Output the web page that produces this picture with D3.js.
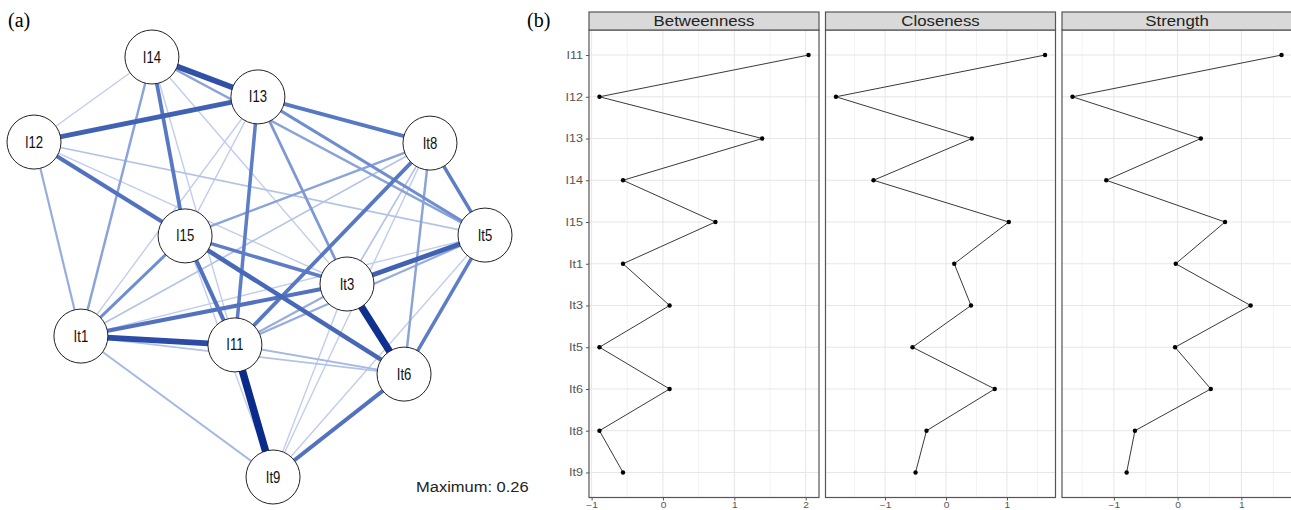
<!DOCTYPE html>
<html>
<head>
<meta charset="utf-8">
<script src="https://cdn.jsdelivr.net/npm/d3@7"></script>
<style>
  body { margin: 0; background: #fff; }
  svg { display: block; font-family: "Liberation Sans", Arial, sans-serif; }
</style>
</head>
<body>
<div id="chart"></div>
<script>
// ---- data ----
// network (a): node names and qgraph-style layout coordinates in [-1, 1]
const nodeNames = ["I14", "I13", "I12", "It8", "It5", "I15", "It3", "It1", "I11", "It6", "It9"];
const layoutX = [-0.477, -0.007, -1.0, 0.756, 1.0, -0.330, 0.388, -0.792, -0.109, 0.641, 0.060];
const layoutY = [1.0, 0.810, 0.595, 0.590, 0.152, 0.148, -0.081, -0.329, -0.371, -0.510, -1.0];

// edges: [from, to, partial correlation]
const edges = [
  ["I11", "It9", 0.26], ["It3", "It6", 0.25], ["I14", "I13", 0.19], ["It1", "I11", 0.20],
  ["I12", "I13", 0.16], ["It3", "It5", 0.16], ["I15", "It6", 0.15], ["I12", "I15", 0.13],
  ["I14", "I15", 0.12], ["I15", "I11", 0.13], ["It6", "It9", 0.13], ["It1", "It3", 0.13],
  ["I13", "It8", 0.12], ["It8", "I11", 0.12], ["I13", "I11", 0.11], ["It8", "It5", 0.11],
  ["It5", "It6", 0.11], ["I15", "It3", 0.11], ["I13", "It5", 0.09], ["I14", "It5", 0.07],
  ["I15", "It1", 0.09], ["I13", "It3", 0.08], ["I15", "It8", 0.07], ["I14", "It1", 0.07],
  ["I12", "It1", 0.06], ["It1", "It9", 0.05], ["I11", "It3", 0.06], ["It8", "It6", 0.07],
  ["It5", "I11", 0.06], ["I12", "It5", 0.04], ["I12", "I14", 0.03], ["I14", "It3", 0.03],
  ["I14", "I11", 0.03], ["I13", "I15", 0.03], ["I13", "It1", 0.03], ["It8", "It1", 0.04],
  ["It8", "It9", 0.03], ["It8", "It3", 0.04], ["It5", "It1", 0.03], ["It5", "It9", 0.03],
  ["I15", "It9", 0.03], ["It1", "It6", 0.04], ["I11", "It6", 0.05], ["It3", "It9", 0.03],
  ["I12", "It3", 0.03], ["I12", "It6", 0.03]
];
const maxWeight = 0.26;

// centrality plot (b)
const items = ["I11", "I12", "I13", "I14", "I15", "It1", "It3", "It5", "It6", "It8", "It9"];
const measures = ["Betweenness", "Closeness", "Strength"];
const betweenness = [2.04, -0.89, 1.39, -0.56, 0.735, -0.56, 0.093, -0.89, 0.093, -0.89, -0.56];
const closeness = [1.625, -1.806, 0.424, -1.19, 1.03, 0.135, 0.41, -0.55, 0.80, -0.32, -0.50];
const strength = [1.63, -1.65, 0.364, -1.12, 0.744, -0.03, 1.145, -0.04, 0.52, -0.67, -0.80];
const xTicks = [[-1, 0, 1, 2], [-1, 0, 1], [-1, 0, 1]];
const xMinor = [[-0.5, 0.5, 1.5], [-1.5, -0.5, 0.5, 1.5], [-1.5, -0.5, 0.5, 1.5]];

const W = 1291, H = 510;
const svg = d3.select("#chart").append("svg")
    .attr("width", W)
    .attr("height", H);

// text drawn with a horizontal stretch (the figure is not square-scaled)
function stretchText(parent, x, y, str, sx) {
    return parent.append("g")
        .attr("transform", `translate(${x},${y}) scale(${sx},1)`)
        .append("text")
        .text(str);
}

// ================= (a) network =================
svg.append("text")
    .attr("x", 8).attr("y", 27)
    .attr("font-family", "'Liberation Serif', 'Times New Roman', serif")
    .attr("font-size", 20)
    .text("(a)");

const nx = d3.scaleLinear().domain([-1, 1]).range([34, 485]);
const ny = d3.scaleLinear().domain([-1, 1]).range([477, 57]);
const nodes = nodeNames.map((n, i) => ({ name: n, x: nx(layoutX[i]), y: ny(layoutY[i]) }));
const byName = {};
nodes.forEach(d => byName[d.name] = d);

const edgeColor = d3.scaleLinear()
    .domain([0, 0.1, maxWeight])
    .range(["#e8edf8", "#6283cb", "#0a2a8c"]);
const edgeWidth = d3.scaleLinear()
    .domain([0, maxWeight])
    .range([0.6, 7.5]);

const net = svg.append("g");
net.selectAll("line.edge")
    .data(edges.slice().sort((a, b) => a[2] - b[2]))
    .enter()
    .append("line")
    .attr("class", "edge")
    .attr("x1", d => byName[d[0]].x)
    .attr("y1", d => byName[d[0]].y)
    .attr("x2", d => byName[d[1]].x)
    .attr("y2", d => byName[d[1]].y)
    .attr("stroke", d => edgeColor(d[2]))
    .attr("stroke-width", d => edgeWidth(d[2]));

const nodeG = net.selectAll("g.node")
    .data(nodes)
    .enter()
    .append("g")
    .attr("class", "node")
    .attr("transform", d => `translate(${d.x},${d.y})`);

nodeG.append("circle")
    .attr("r", 27)
    .attr("fill", "#fff")
    .attr("stroke", "#222")
    .attr("stroke-width", 1);

nodeG.append("g")
    .attr("transform", "translate(0,5.5) scale(0.82,1)")
    .append("text")
    .attr("text-anchor", "middle")
    .attr("font-size", 16)
    .attr("fill", "#111")
    .text(d => d.name);

stretchText(svg, 416, 492, "Maximum: 0.26", 1.1)
    .attr("font-size", 15)
    .attr("fill", "#222");

// ================= (b) centrality plot =================
svg.append("text")
    .attr("x", 527).attr("y", 27)
    .attr("font-family", "'Liberation Serif', 'Times New Roman', serif")
    .attr("font-size", 20)
    .text("(b)");

const values = [betweenness, closeness, strength];
const panelW = 230, gap = 6.5, left0 = 589;
const panelTop = 30, panelBottom = 497.5, stripH = 18;
const sx = 1.2;

const y = d3.scalePoint()
    .domain(items)
    .range([panelTop, panelBottom])
    .padding(0.6);

measures.forEach(function (m, k) {
    const vals = values[k];
    const x0 = left0 + k * (panelW + gap);
    const ext = d3.extent(vals);
    const pad = (ext[1] - ext[0]) * 0.05;
    const x = d3.scaleLinear()
        .domain([ext[0] - pad, ext[1] + pad])
        .range([x0, x0 + panelW]);

    const g = svg.append("g");

    // minor grid
    g.selectAll("line.minor")
        .data(xMinor[k])
        .enter()
        .append("line")
        .attr("x1", d => x(d)).attr("x2", d => x(d))
        .attr("y1", panelTop).attr("y2", panelBottom)
        .attr("stroke", "#f0f0f0")
        .attr("stroke-width", 0.8);

    // major grid
    g.selectAll("line.majorx")
        .data(xTicks[k])
        .enter()
        .append("line")
        .attr("x1", d => x(d)).attr("x2", d => x(d))
        .attr("y1", panelTop).attr("y2", panelBottom)
        .attr("stroke", "#e6e6e6")
        .attr("stroke-width", 1);

    g.selectAll("line.majory")
        .data(items)
        .enter()
        .append("line")
        .attr("x1", x0).attr("x2", x0 + panelW)
        .attr("y1", d => y(d)).attr("y2", d => y(d))
        .attr("stroke", "#e6e6e6")
        .attr("stroke-width", 1);

    // line and points
    const pts = items.map((it, i) => ({ item: it, v: vals[i] }));
    g.append("path")
        .datum(pts)
        .attr("fill", "none")
        .attr("stroke", "#222")
        .attr("stroke-width", 0.9)
        .attr("d", d3.line().x(d => x(d.v)).y(d => y(d.item)));

    g.selectAll("circle")
        .data(pts)
        .enter()
        .append("circle")
        .attr("cx", d => x(d.v))
        .attr("cy", d => y(d.item))
        .attr("r", 2.2)
        .attr("fill", "#000");

    // panel border
    g.append("rect")
        .attr("x", x0).attr("y", panelTop)
        .attr("width", panelW).attr("height", panelBottom - panelTop)
        .attr("fill", "none")
        .attr("stroke", "#555")
        .attr("stroke-width", 1.2);

    // strip
    g.append("rect")
        .attr("x", x0).attr("y", panelTop - stripH)
        .attr("width", panelW).attr("height", stripH)
        .attr("fill", "#d9d9d9")
        .attr("stroke", "#555")
        .attr("stroke-width", 1.2);

    stretchText(g, x0 + panelW / 2, panelTop - 4.5, m, sx)
        .attr("text-anchor", "middle")
        .attr("font-size", 14)
        .attr("fill", "#222");

    // x axis (labels kept just inside the bottom edge)
    const xa = g.append("g")
        .attr("transform", `translate(0,${panelBottom})`)
        .call(d3.axisBottom(x).tickValues(xTicks[k]).tickSize(3).tickPadding(1.5).tickFormat(d3.format("d")));
    xa.select(".domain").remove();
    xa.selectAll("line").attr("stroke", "#555");
    xa.selectAll("text")
        .attr("font-size", 8.5)
        .attr("fill", "#555")
        .attr("transform", `scale(${sx},1)`);

    // y axis on first panel only
    if (k === 0) {
        const ya = g.append("g")
            .attr("transform", `translate(${x0},0)`)
            .call(d3.axisLeft(y).tickSize(3).tickPadding(2));
        ya.select(".domain").remove();
        ya.selectAll("line").attr("stroke", "#555");
        ya.selectAll("text")
            .attr("font-size", 10.5)
            .attr("fill", "#555")
            .attr("transform", `scale(${sx},1)`);
    }
});
</script>
</body>
</html>
